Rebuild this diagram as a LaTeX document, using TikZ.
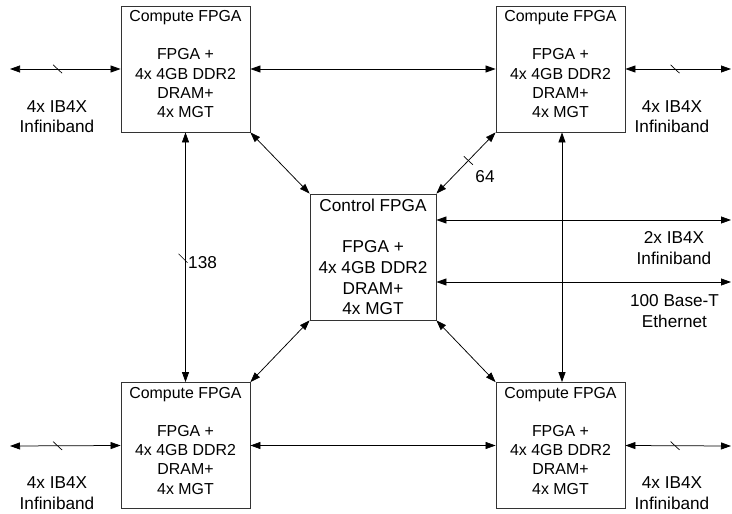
\documentclass[tikz,border=0pt]{standalone}
\usepackage{fontspec}
\setmainfont{Liberation Sans}
\usetikzlibrary{arrows.meta, positioning}

\begin{document}
\begin{tikzpicture}[
    x=1pt, y=-1pt,
    cbox/.style={rectangle, draw=black!80, line width=0.8pt, minimum width=129pt,
                 minimum height=126pt, inner sep=0pt, align=center,
                 font=\fontsize{15.9}{19.2}\selectfont},
    ctlbox/.style={rectangle, draw=black!80, line width=0.8pt, minimum width=126pt,
                   minimum height=126pt, inner sep=0pt, align=center,
                   font=\fontsize{17.2}{20.6}\selectfont},
    lbl/.style={inner sep=0pt, align=center, font=\fontsize{17.2}{20.5}\selectfont},
    arr/.style={{Triangle[length=10pt,width=7pt]}-{Triangle[length=10pt,width=7pt]},
                line width=0.75pt},
    tickln/.style={line width=0.7pt}
]
\useasboundingbox (0,0) rectangle (732,514);
\node[cbox]   (c1)  at (185.5,69)    {Compute FPGA\\[19.2pt]FPGA +\\4x 4GB DDR2\\DRAM+\\4x MGT\rule[-10pt]{0pt}{0pt}};
\node[cbox]   (c2)  at (560.5,69)    {Compute FPGA\\[19.2pt]FPGA +\\4x 4GB DDR2\\DRAM+\\4x MGT\rule[-10pt]{0pt}{0pt}};
\node[cbox]   (c3)  at (185.5,445.5) {Compute FPGA\\[19.2pt]FPGA +\\4x 4GB DDR2\\DRAM+\\4x MGT\rule[-10pt]{0pt}{0pt}};
\node[cbox]   (c4)  at (560.5,445.5) {Compute FPGA\\[19.2pt]FPGA +\\4x 4GB DDR2\\DRAM+\\4x MGT\rule[-10pt]{0pt}{0pt}};
\node[ctlbox] (ctl) at (373,257)     {Control FPGA\\[20.6pt]FPGA +\\4x 4GB DDR2\\DRAM+\\4x MGT};
% free ends
\coordinate (w1) at (10,69);
\coordinate (e1) at (731,69);
\coordinate (w2) at (10,446);
\coordinate (e2) at (731,446);
\coordinate (r1) at (731,220);
\coordinate (r2) at (731,282);
% links between the boxes
\draw[arr] (c1) -- (c2);
\draw[arr] (c3) -- (c4);
\draw[arr] (c1.south) -- coordinate[pos=0.506] (t5) (c3.north);
\draw[arr] ([xshift=1.5pt]c2.south) -- ([xshift=1.5pt]c4.north);
\draw[arr] (c1.south east) -- (ctl.north west);
\draw[arr] (c2.south west) -- coordinate[pos=0.46] (t6) (ctl.north east);
\draw[arr] (c3.north east) -- (ctl.south west);
\draw[arr] (c4.north west) -- (ctl.south east);
% outside links
\draw[arr] (c1.west) -- coordinate[pos=0.57] (t1) (w1);
\draw[arr] (c2.east) -- coordinate[pos=0.47] (t2) (e1);
\draw[arr] (c3.west) -- coordinate[pos=0.57] (t3) (w2);
\draw[arr] (c4.east) -- coordinate[pos=0.47] (t4) (e2);
\draw[arr] (ctl.east |- r1) -- (r1);
\draw[arr] (ctl.east |- r2) -- (r2);
% bus ticks
\foreach \t in {t1,t2,t3,t4,t6}
    \draw[tickln] (\t) ++(-4.5,-4.2) -- ++(9,8.4);
\draw[tickln] (t5) ++(-7,-5) -- ++(9,9);
% labels
\node[lbl] (l1) at (57,116.5)  {4x IB4X\\Infiniband};
\node[lbl] (l2) at (672,116.5) {4x IB4X\\Infiniband};
\node[lbl] (l3) at (57,493)    {4x IB4X\\Infiniband};
\node[lbl] (l4) at (672,493)   {4x IB4X\\Infiniband};
\node[lbl] (l5) at (674,248)   {2x IB4X\\Infiniband};
\node[lbl] (l6) at (674.5,311) {100 Base-T\\Ethernet};
\node[lbl, anchor=west] (l7) at (188,263) {138};
\node[lbl] (l8) at (485,177)   {64};
\end{tikzpicture}
\end{document}
